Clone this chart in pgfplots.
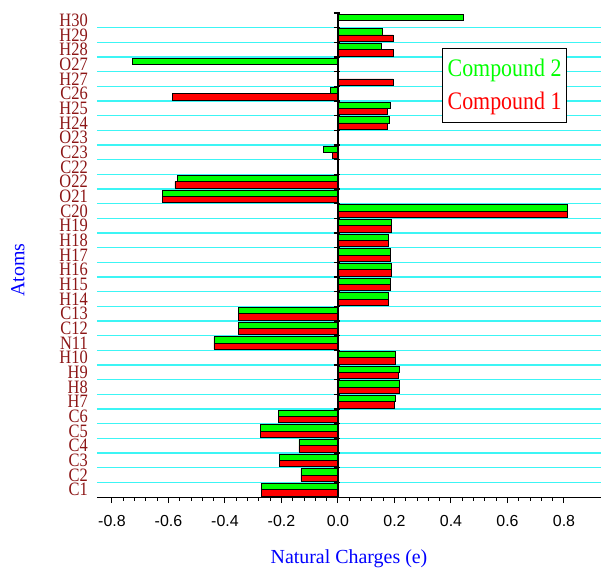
\documentclass[border=0pt]{standalone}
\usepackage{fontspec}
\setmainfont{Liberation Serif}
\newfontfamily\arial{Liberation Sans}
\usepackage{pgfplots}
\pgfplotsset{compat=1.18}
\definecolor{lab}{RGB}{140,22,22}
\definecolor{gbar}{RGB}{0,255,0}
\definecolor{rbar}{RGB}{255,0,0}
\definecolor{gridc}{RGB}{60,245,245}
\newcommand\yl[1]{\scalebox{1}[1.15]{#1}}
\begin{document}
\begin{tikzpicture}
\begin{axis}[name=ax, scale only axis, width=504bp, height=484bp,
  xmin=-0.853, xmax=0.931, ymin=-0.5, ymax=32.5,
  axis x line*=bottom, axis y line*=left,
  y axis line style={draw=none},
  x axis line style={black, line width=1bp},
  xtick={-0.8,-0.6,...,0.8}, minor x tick num=4,
  tick align=outside,
  major tick length=6bp, minor tick length=3.5bp,
  x tick style={black, line width=1bp},
  xticklabel style={font=\arial\fontsize{16}{16}\selectfont, yshift=-9bp},
  /pgf/number format/.cd, fixed, fixed zerofill, precision=1, assume math mode=true,
  /pgfplots/.cd,
  ytick={0,...,32},
  yticklabels={\yl{C1},\yl{C2},\yl{C3},\yl{C4},\yl{C5},\yl{C6},\yl{H7},\yl{H8},\yl{H9},\yl{H10},\yl{N11},\yl{C12},\yl{C13},\yl{H14},\yl{H15},\yl{H16},\yl{H17},\yl{H18},\yl{H19},\yl{C20},\yl{O21},\yl{O22},\yl{C22},\yl{C23},\yl{O23},\yl{H24},\yl{H25},\yl{C26},\yl{H27},\yl{O27},\yl{H28},\yl{H29},\yl{H30}},
  minor ytick={0.5,1.5,...,31.5},
  y tick style={draw=none},
  minor y tick style={draw=none},
  yminorgrids=true,
  minor grid style={gridc, line width=1.3bp},
  yticklabel style={font=\fontsize{16.5}{16.5}\selectfont, text=lab, inner sep=0pt, xshift=-3bp},
  xlabel={Natural Charges (e)},
  ylabel={Atoms},
  xlabel style={font=\fontsize{20}{20}\selectfont, text=blue, at={(axis description cs:0.5,0)}, anchor=center, yshift=-62bp},
  ylabel style={font=\fontsize{20}{20}\selectfont, text=blue, at={(axis description cs:0,0.469)}, anchor=center, yshift=79bp},
  legend style={at={(0.685,0.928)}, anchor=north west, draw=black, line width=0.8bp, fill=white,
    font=\fontsize{22}{22}\selectfont, inner xsep=3bp, inner ysep=9bp, row sep=10bp},
  legend cell align=left,
  legend image code/.code={},
]
\addplot[xbar, fill=gbar, draw=black, line width=0.9bp, bar width=0.43, bar shift=0.215] coordinates {
(-0.272,0) (-0.131,1) (-0.208,2) (-0.138,3) (-0.274,4) (-0.211,5)
(0.202,6) (0.217,7) (0.217,8) (0.202,9) (-0.439,10) (-0.353,11) (-0.353,12)
(0.178,13) (0.185,14) (0.191,15) (0.186,16) (0.178,17) (0.190,18) (0.813,19)
(-0.621,20) (-0.567,21) (-0.050,23) (0.182,25) (0.185,26) (-0.028,27)
(-0.728,29) (0.153,30) (0.157,31) (0.443,32)
};
\addlegendentry{\textcolor{gbar}{\yl{Compound 2}}}
\addplot[xbar, fill=rbar, draw=black, line width=0.9bp, bar width=0.43, bar shift=-0.215] coordinates {
(-0.272,0) (-0.131,1) (-0.208,2) (-0.138,3) (-0.274,4) (-0.211,5)
(0.200,6) (0.218,7) (0.213,8) (0.202,9) (-0.439,10) (-0.353,11) (-0.353,12)
(0.178,13) (0.185,14) (0.191,15) (0.186,16) (0.178,17) (0.190,18) (0.813,19)
(-0.621,20) (-0.577,21) (-0.019,23) (0.175,25) (0.175,26) (-0.586,27)
(0.195,28) (0.198,30) (0.195,31)
};
\addlegendentry{\textcolor{rbar}{\yl{Compound 1}}}
\draw[black, line width=1.2bp] (axis cs:0,-0.5) -- (axis cs:0,32.5);
\pgfplotsinvokeforeach{0,...,32}{
  \draw[black, line width=1.2bp] ([xshift=-4bp]axis cs:0,#1+0.5) -- ([xshift=2bp]axis cs:0,#1+0.5);
}
\end{axis}
\pgfresetboundingbox
\path ([xshift=-97bp,yshift=-72bp]ax.south west) rectangle ([xshift=1bp,yshift=13bp]ax.north east);
\end{tikzpicture}
\end{document}
